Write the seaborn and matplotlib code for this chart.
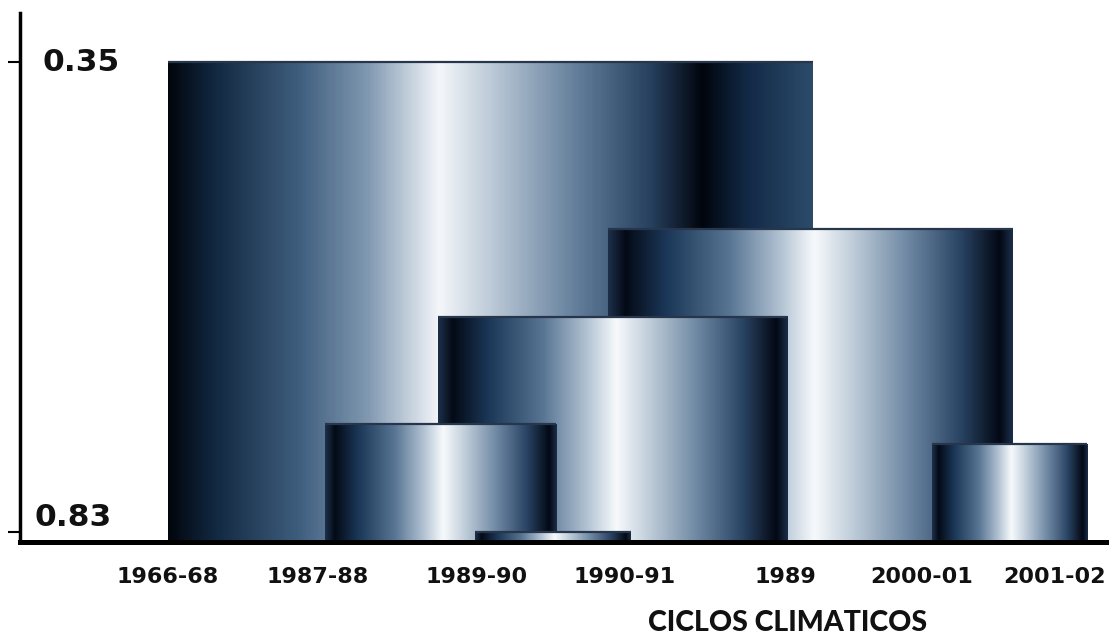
import numpy as np
import matplotlib
matplotlib.use("Agg")
import matplotlib.pyplot as plt
from matplotlib.colors import LinearSegmentedColormap
from matplotlib.transforms import ScaledTranslation
import seaborn as sns

# Category axis (climate cycles) and where each label sits along it
categories = ["1966-68", "1987-88", "1989-90", "1990-91", "1989", "2000-01", "2001-02"]
category_pos = [-0.04, 0.965, 2.03, 3.02, 4.10, 5.01, 5.90]

# Each bar spans a range of the category axis and reaches a value
bar_start = [-0.04, 1.01, 2.02, 1.77, 2.91, 5.08]
bar_end = [4.28, 2.56, 3.06, 4.11, 5.62, 6.12]
bar_value = [0.35, 0.72, 0.83, 0.61, 0.52, 0.74]
baseline = 0.84

ytick_values = [0.35, 0.83]
ytick_labels = ["0.35", "0.83"]
xlabel = "CICLOS CLIMATICOS"

sns.set_theme(style="white")
plt.rcParams["font.family"] = ["DejaVu Sans"]

# Metallic "cylinder" shading: dark rims, bright highlight near the middle
cyl = LinearSegmentedColormap.from_list("cyl", [
    (0.00, "#1c2e48"), (0.04, "#040a16"), (0.14, "#1a3656"),
    (0.30, "#587593"), (0.42, "#aebfd0"), (0.51, "#f7fafc"),
    (0.60, "#c2cfdb"), (0.74, "#6f89a4"), (0.87, "#2a4565"),
    (0.97, "#030814"), (1.00, "#1a2c46")])
cyl_wide = LinearSegmentedColormap.from_list("cyl_wide", [
    (0.00, "#02060e"), (0.07, "#112840"), (0.20, "#3e5d7d"),
    (0.31, "#8199b2"), (0.42, "#f4f7fa"), (0.53, "#a9bacb"),
    (0.64, "#5f7b98"), (0.75, "#26405e"), (0.83, "#01050d"),
    (0.90, "#122946"), (1.00, "#2c4b6b")])

fig = plt.figure(figsize=(11.09, 6.36), dpi=100)
fig.patch.set_facecolor("white")
ax = fig.add_axes([20 / 1109, 94 / 636, 1087 / 1109, 529 / 636])
ax.set_facecolor("white")

grad = np.linspace(0, 1, 600).reshape(1, -1)

# Draw the tallest bars first so shorter ones sit in front
order = np.argsort(bar_value)
for z, i in enumerate(order, start=2):
    x0, x1, v = bar_start[i], bar_end[i], bar_value[i]
    bars = ax.bar(x0, v - baseline, bottom=baseline, width=x1 - x0, align="edge",
                  facecolor="none", edgecolor="none", zorder=z)
    patch = bars.patches[0]
    cmap = cyl_wide if (x1 - x0) > 3 else cyl
    ax.imshow(grad, cmap=cmap, extent=(x0, x1, baseline, v), aspect="auto",
              interpolation="bicubic", zorder=z, clip_path=patch)
    ax.hlines(v, x0, x1, color="#27364a", lw=1.6, zorder=z + 0.5)

ax.set_xlim(-1.032, 6.253)
ax.set_ylim(0.840, 0.300)

ax.set_xticks(category_pos)
ax.set_xticklabels(categories, fontsize=16, fontweight="bold", color="#111111")
ax.set_yticks(ytick_values)
ax.set_yticklabels(ytick_labels, fontsize=22.5, fontweight="bold", color="#111111")

ax.tick_params(axis="x", length=0, pad=18)
ax.tick_params(axis="y", direction="out", length=9, width=1.5, color="black", pad=0, left=True)

sns.despine(ax=ax, top=True, right=True)
for side, lw in (("left", 2.5), ("bottom", 3.6)):
    ax.spines[side].set_linewidth(lw)
    ax.spines[side].set_color("black")
    ax.spines[side].set_zorder(20)

ax.set_xlabel(xlabel, fontsize=20.5, fontweight="black", color="#111111",
              family=["Lato", "DejaVu Sans"])
ax.xaxis.set_label_coords(0.706, -0.128)

# Tick labels of the value axis sit inside the plot, to the right of the spine
offsets = [(35.5, -1.0), (27.5, 15.0)]
for lab, (dx, dy) in zip(ax.get_yticklabels(), offsets):
    lab.set_ha("left")
    lab.set_va("center")
    lab.set_transform(lab.get_transform() + ScaledTranslation(dx / 100, dy / 100, fig.dpi_scale_trans))

fig.savefig("out.png", dpi=100, facecolor="white")
